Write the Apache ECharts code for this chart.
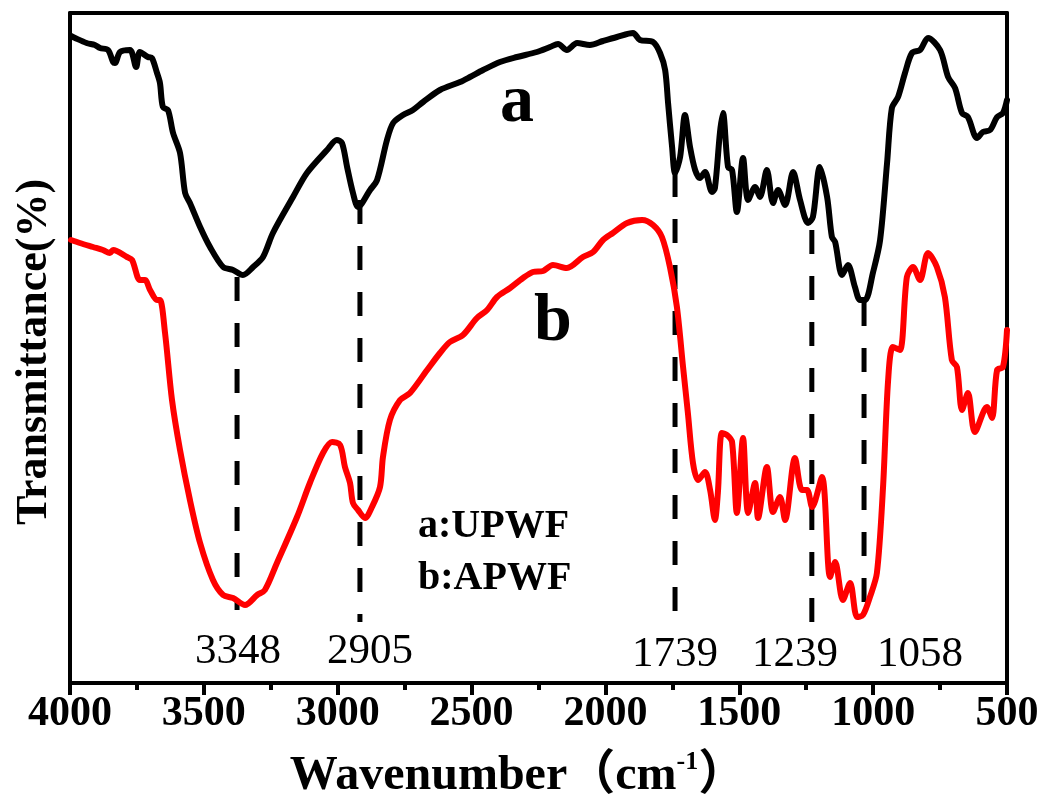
<!DOCTYPE html>
<html>
<head>
<meta charset="utf-8">
<script src="https://cdn.jsdelivr.net/npm/echarts@6/dist/echarts.min.js"></script>
<style>html,body{margin:0;padding:0;background:#fff;}#c{width:1044px;height:803px;}</style>
</head>
<body>
<div id="c"></div>
<script>
// ---- data (wavenumber cm-1, transmittance in arbitrary units) ----
const aWn = [3996,3981,3938,3907,3888,3858,3839,3832,3813,3776,3753,3739,3709,3694,3675,3664,3653,3634,3615,3589,3570,3552,3514,3477,3428,3391,3354,3316,3279,3242,3167,3115,3040,3003,2984,2965,2943,2924,2879,2853,2816,2793,2756,2719,2681,2618,2543,2506,2457,2394,2330,2256,2207,2177,2144,2106,2058,2009,1957,1897,1871,1822,1796,1777,1766,1751,1740,1721,1703,1684,1665,1647,1628,1602,1591,1572,1561,1542,1527,1509,1486,1467,1441,1423,1397,1374,1355,1329,1299,1273,1243,1225,1199,1172,1154,1142,1116,1094,1068,1049,1030,1001,974,948,930,907,881,855,825,795,750,720,694,668,646,612,590,563,537,515,500];
const aT  = [64.7,64.5,64.0,63.8,63.5,63.3,62.1,62.0,63.1,63.3,61.6,63.1,62.6,62.5,61.0,60.0,57.6,57.3,55.0,53.0,49.0,48.0,45.6,43.6,41.6,41.3,40.8,41.6,42.6,45.0,48.6,51.0,53.3,54.3,54.0,51.6,49.0,47.6,49.3,50.3,54.3,56.0,56.8,57.3,58.1,59.3,60.1,60.6,61.3,62.1,62.6,63.1,63.6,63.9,63.3,64.0,63.8,64.2,64.6,65.0,64.3,64.1,63.0,61.3,58.0,53.6,51.0,52.6,56.8,53.6,51.3,50.5,51.1,49.1,49.5,55.1,57.0,51.6,51.3,47.1,52.5,48.3,49.6,48.6,51.3,48.0,49.3,47.8,51.1,48.3,46.0,46.6,51.6,48.6,44.6,44.1,40.8,41.8,39.6,38.3,38.3,41.0,44.3,52.0,57.5,58.6,61.0,63.0,63.3,64.5,63.3,60.6,59.5,57.0,56.6,54.5,55.1,55.3,56.6,57.0,58.3];

const bWn = [3996,3963,3914,3877,3851,3839,3787,3768,3739,3720,3701,3675,3664,3645,3619,3589,3552,3514,3466,3428,3391,3346,3301,3272,3227,3152,3104,3055,3021,2991,2973,2954,2943,2924,2898,2872,2842,2831,2805,2767,2730,2666,2618,2581,2532,2480,2442,2405,2356,2308,2271,2233,2196,2144,2084,2046,2009,1972,1919,1863,1822,1789,1759,1733,1710,1692,1673,1654,1628,1609,1591,1580,1565,1546,1527,1509,1486,1467,1441,1430,1397,1374,1348,1329,1292,1266,1247,1228,1191,1161,1142,1113,1086,1060,1038,1012,986,963,944,926,900,874,851,825,795,762,732,706,687,668,646,620,575,556,537,515,500];
const bT  = [44.3,44.0,43.6,43.3,43.0,43.3,42.6,42.3,40.3,40.3,39.3,38.3,38.3,35.0,28.3,23.3,18.3,14.0,10.3,8.8,8.5,7.8,8.8,9.3,12.0,16.6,20.0,23.0,24.1,23.8,21.6,20.0,18.0,17.3,16.5,17.6,19.6,22.6,26.3,28.3,29.0,31.3,33.0,34.1,34.8,36.5,37.3,38.6,39.5,40.5,41.1,41.2,41.8,41.5,42.6,43.1,44.3,45.0,46.0,46.3,45.8,44.6,41.6,37.6,31.6,27.0,22.0,20.3,21.1,19.3,16.3,19.0,25.0,24.8,24.1,17.0,24.5,17.0,20.0,16.5,21.6,17.1,18.6,16.3,22.5,19.3,19.3,17.6,20.6,10.6,12.1,8.3,10.0,6.6,6.8,8.6,11.0,19.6,30.3,33.6,33.3,40.6,41.6,40.3,43.0,41.6,38.6,32.3,31.6,27.3,29.0,25.1,27.6,26.5,31.3,31.6,35.3];

// peak marker lines
const peakWn     = [3376, 2917, 1740, 1229, 1034];
const peakTop    = [40.6, 48.3, 51.0, 45.3, 38.1];
const peakBottom = [7.3, 6.1, 6.3, 5.5, 7.0];
const peakLabels = ['3348', '2905', '1739', '1239', '1058'];

// axis ticks
const xTicks = [4000, 3500, 3000, 2500, 2000, 1500, 1000, 500];

const seriesNames = ['a', 'b'];
const sampleNames = ['a:UPWF', 'b:APWF'];

// ---- chart ----
const chart = echarts.init(document.getElementById('c'), null, {renderer: 'canvas'});
const FONT = '"Liberation Serif","Times New Roman",serif';

const zip = (xs, ys) => xs.map((x, i) => [x, ys[i]]);

const peakSeries = peakWn.map((w, i) => ({
  type: 'line',
  data: [[w, peakTop[i]], [w, peakBottom[i]]],
  symbol: 'none',
  silent: true,
  z: 1,
  lineStyle: {color: '#000', width: 5, type: [24, 22]}
}));

const option = {
  animation: false,
  backgroundColor: '#fff',
  grid: {left: 70, right: 37, top: 13, bottom: 120, containLabel: false},
  xAxis: [{
    type: 'value', min: 500, max: 4000, interval: 500, inverse: true,
    position: 'bottom',
    axisLine: {show: true, lineStyle: {color: '#000', width: 4}},
    axisTick: {show: true, inside: false, length: 12, lineStyle: {color: '#000', width: 4}},
    minorTick: {show: true, splitNumber: 2, length: 7, lineStyle: {color: '#000', width: 4}},
    splitLine: {show: false},
    axisLabel: {
      show: true, margin: 10, color: '#000', fontFamily: FONT, fontWeight: 'bold', fontSize: 42,
      formatter: v => xTicks.indexOf(v) >= 0 ? String(v) : ''
    }
  }, {
    type: 'value', min: 500, max: 4000, inverse: true, position: 'top',
    axisLine: {show: true, onZero: false, lineStyle: {color: '#000', width: 4}},
    axisTick: {show: false}, axisLabel: {show: false}, splitLine: {show: false}
  }],
  yAxis: [{
    type: 'value', min: 0, max: 67, position: 'left',
    axisLine: {show: true, onZero: false, lineStyle: {color: '#000', width: 4}},
    axisTick: {show: false}, axisLabel: {show: false}, splitLine: {show: false}
  }, {
    type: 'value', min: 0, max: 67, position: 'right',
    axisLine: {show: true, onZero: false, lineStyle: {color: '#000', width: 4}},
    axisTick: {show: false}, axisLabel: {show: false}, splitLine: {show: false}
  }],
  series: [
    ...peakSeries,
    {
      name: seriesNames[0], type: 'line', data: zip(aWn, aT), symbol: 'none', smooth: 0.3, z: 3,
      lineStyle: {color: '#000', width: 6, join: 'round', cap: 'round'}
    },
    {
      name: seriesNames[1], type: 'line', data: zip(bWn, bT), symbol: 'none', smooth: 0.3, z: 3,
      lineStyle: {color: '#ff0000', width: 6, join: 'round', cap: 'round'}
    }
  ],
  graphic: [
    {type: 'text', x: 517, y: 103, z: 10, style: {text: seriesNames[0], fill: '#000', font: 'bold 68px ' + FONT, align: 'center', verticalAlign: 'middle'}},
    {type: 'text', x: 553, y: 322, z: 10, style: {text: seriesNames[1], fill: '#000', font: 'bold 68px ' + FONT, align: 'center', verticalAlign: 'middle'}},
    {type: 'text', x: 418, y: 527, z: 10, style: {text: sampleNames[0], fill: '#000', font: 'bold 40px ' + FONT, align: 'left', verticalAlign: 'middle'}},
    {type: 'text', x: 418, y: 579, z: 10, style: {text: sampleNames[1], fill: '#000', font: 'bold 40px ' + FONT, align: 'left', verticalAlign: 'middle'}},
    {type: 'text', x: 238, y: 652, z: 10, style: {text: peakLabels[0], fill: '#000', font: '43px ' + FONT, align: 'center', verticalAlign: 'middle'}},
    {type: 'text', x: 370, y: 652, z: 10, style: {text: peakLabels[1], fill: '#000', font: '43px ' + FONT, align: 'center', verticalAlign: 'middle'}},
    {type: 'text', x: 675, y: 655, z: 10, style: {text: peakLabels[2], fill: '#000', font: '43px ' + FONT, align: 'center', verticalAlign: 'middle'}},
    {type: 'text', x: 795, y: 655, z: 10, style: {text: peakLabels[3], fill: '#000', font: '43px ' + FONT, align: 'center', verticalAlign: 'middle'}},
    {type: 'text', x: 920, y: 655, z: 10, style: {text: peakLabels[4], fill: '#000', font: '43px ' + FONT, align: 'center', verticalAlign: 'middle'}},
    {type: 'text', x: 35, y: 352, rotation: Math.PI / 2, z: 10,
      style: {text: 'Transmittance(%)', fill: '#000', font: 'bold 44px ' + FONT, align: 'center', verticalAlign: 'middle'}},
    {type: 'text', x: 518, y: 775, z: 10,
      style: {
        text: '{m|Wavenumber（cm}{s|-1}{m|）}',
        align: 'center', verticalAlign: 'middle',
        rich: {
          m: {fill: '#000', fontFamily: FONT + ',"Noto Sans CJK SC"', fontWeight: 'bold', fontSize: 48, lineHeight: 52, verticalAlign: 'bottom'},
          s: {fill: '#000', fontFamily: FONT, fontWeight: 'bold', fontSize: 26, lineHeight: 52, verticalAlign: 'top'}
        }
      }}
  ]
};
chart.setOption(option);
</script>
</body>
</html>
